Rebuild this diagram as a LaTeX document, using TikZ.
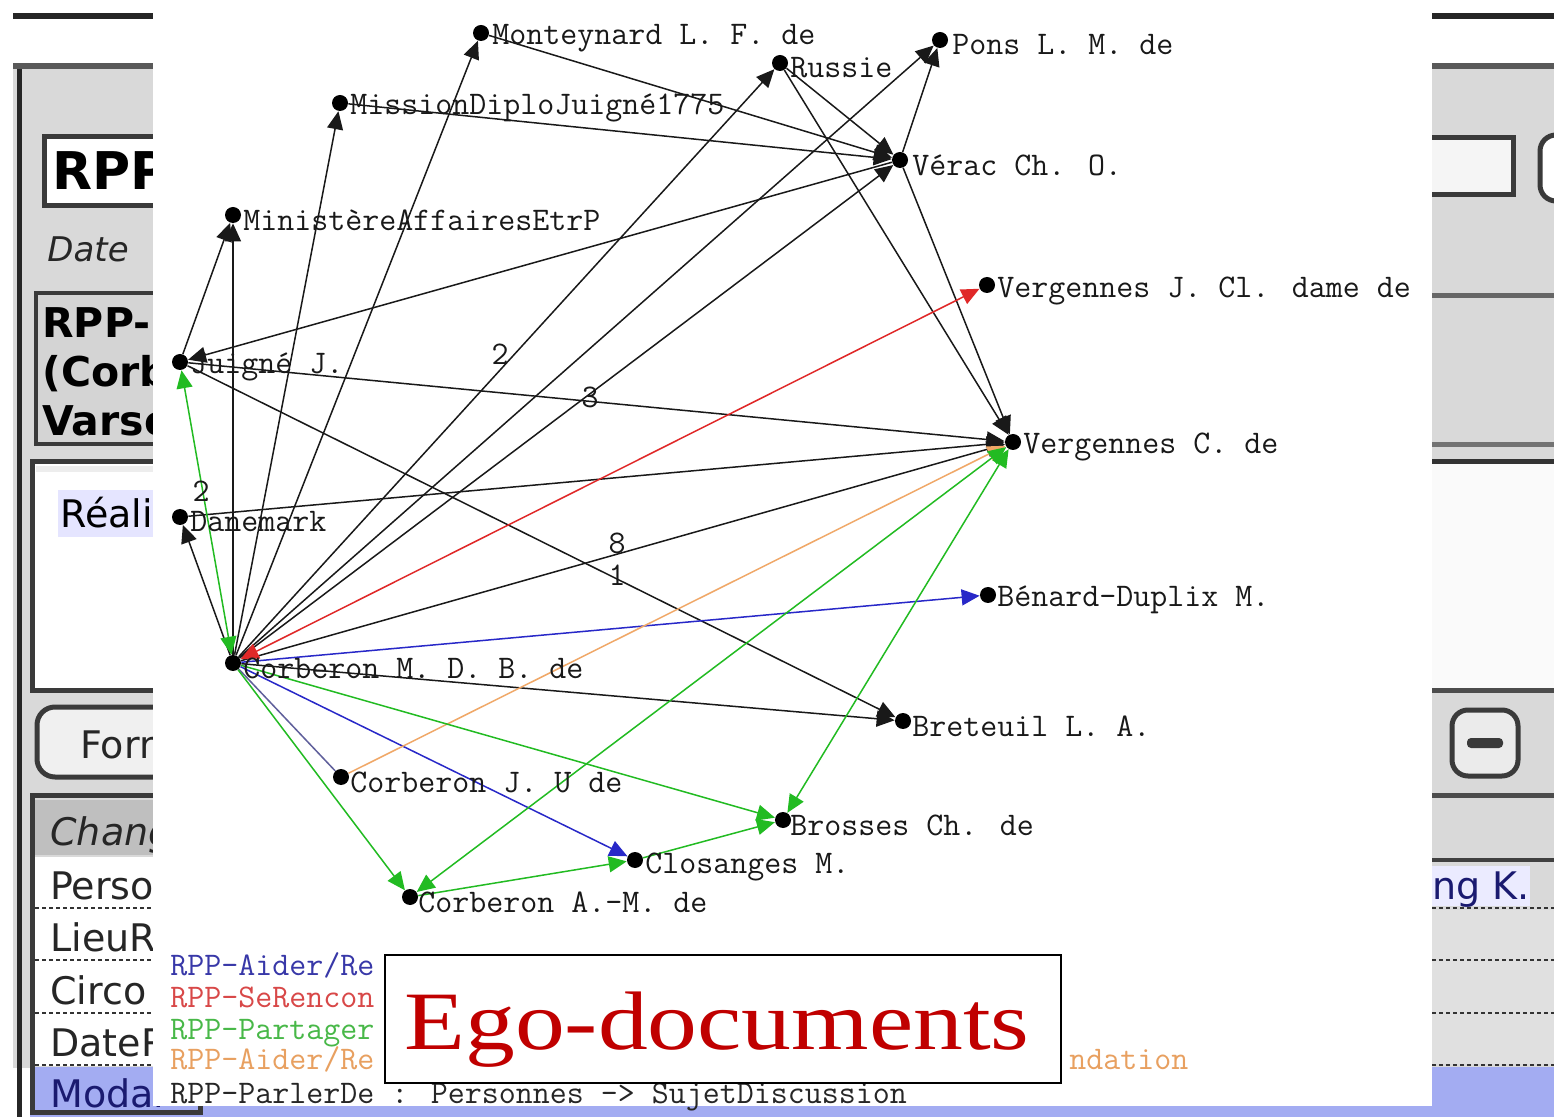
\documentclass[tikz,border=0pt]{standalone}
\usepackage{fontspec}
\setmainfont{Liberation Serif}
\setsansfont{DejaVu Sans}
\usetikzlibrary{arrows.meta}
\pgfdeclarelayer{ui}
\pgfdeclarelayer{edges}
\pgfsetlayers{ui,edges,main}
\newcommand\gfont{\ttfamily\fontsize{16.5}{18}\selectfont}
\newcommand\uifont{\sffamily\fontsize{19}{22}\selectfont}
\definecolor{uigray}{HTML}{D9D9D9}
\definecolor{uidark}{HTML}{3A3A3A}
\definecolor{selblue}{HTML}{A3ACF2}
\definecolor{egored}{HTML}{C00000}
\definecolor{eblue}{HTML}{2828C8}
\definecolor{ered}{HTML}{E02828}
\definecolor{egreen}{HTML}{22BB22}
\definecolor{eorange}{HTML}{F0A868}
\definecolor{lblue}{HTML}{3838A8}
\definecolor{lred}{HTML}{D84848}
\definecolor{lgreen}{HTML}{48B848}
\definecolor{lorange}{HTML}{E8A060}
\definecolor{navy}{HTML}{1A1A70}
\begin{document}
\begin{tikzpicture}[x=0.5pt,y=-0.5pt,
  >={Triangle[length=9pt,width=8pt]},
  dot/.style={circle,fill=black,inner sep=0pt,minimum size=8pt},
  nl/.style={anchor=west,inner sep=0pt,font=\gfont,text=black!90},
  el/.style={inner sep=0pt,font=\gfont,text=black!90,text height=8pt,text depth=0pt},
  bk/.style={draw=black!90,line width=0.75pt,->},
  bl/.style={draw=eblue,line width=0.75pt,->},
  rd/.style={draw=ered,line width=0.75pt,<->},
  gr/.style={draw=egreen,line width=0.75pt,->},
  grr/.style={draw=egreen,line width=0.75pt,<->},
  og/.style={draw=eorange,line width=0.75pt,->},
  uit/.style={anchor=base west,inner sep=0pt,font=\uifont,text=black!85},
  uibox/.style={draw=uidark,line width=1.8pt},
  sep/.style={draw=black!80,line width=1.2pt,dash pattern=on 2pt off 1.5pt},
  legend/.style={anchor=west,inner sep=0pt,font=\gfont,text height=10pt,text depth=2pt}]

\useasboundingbox (0,0) rectangle (1554,1117);

\begin{pgfonlayer}{ui}
% window background
\fill[white] (0,0) rectangle (1554,1117);
\fill[black!85] (13,13) rectangle (1554,19);
\fill[black!65] (13,63) rectangle (1554,69);
\fill[uigray] (13,69) rectangle (1554,1068);
\fill[selblue] (30,1067) rectangle (1554,1117);
\fill[black!85] (17,69) rectangle (22,1117);
% left panel
\draw[uibox,line width=2.5pt,fill=white] (44,137) rectangle (175,206);
\node[uit,font=\sffamily\bfseries\fontsize{26}{30}\selectfont,text=black] (uiRPP) at (52,190) {RPP};
\node[uit,font=\sffamily\itshape\fontsize{17}{20}\selectfont] (uiDate) at (47,262) {Date};
\draw[uibox,fill=black!17] (36,293) rectangle (175,444);
\node[uit,font=\sffamily\bfseries\fontsize{20.5}{24}\selectfont,text=black] (uiL1) at (42,338) {RPP-};
\node[uit,font=\sffamily\bfseries\fontsize{20.5}{24}\selectfont,text=black] (uiL2) at (42,387) {(Corb};
\node[uit,font=\sffamily\bfseries\fontsize{20.5}{24}\selectfont,text=black] (uiL3) at (42,436) {Varse};
\draw[uibox,line width=2.5pt,fill=white] (32,462) rectangle (175,690);
\fill[black!7] (36,466) rectangle (175,472);
\fill[blue!10] (58,490) rectangle (175,537);
\node[uit,text=black] (uiReal) at (60,528) {Réalis};
\draw[uibox,line width=2.5pt,rounded corners=9pt,fill=black!6] (37,707) rectangle (220,777);
\node[uit] (uiForm) at (80,758) {Form};
\draw[uibox,line width=2.5pt] (32,795) rectangle (200,1112);
\fill[black!25] (35,800) rectangle (175,855);
\node[uit,font=\sffamily\itshape\fontsize{19}{22}\selectfont] (uiChang) at (50,845) {Chang};
\fill[white] (35,857) rectangle (175,1066);
\node[uit] (uiPerso) at (50,899) {Perso};
\node[uit] (uiLieu) at (50,951) {LieuR};
\node[uit] (uiCirc) at (50,1004) {Circo};
\node[uit] (uiDateR) at (50,1056) {DateR};
\node[uit,text=navy] (uiModal) at (50,1107) {Modal};
\foreach \yy in {908,960,1013,1065} \draw[sep] (35,\yy) -- (175,\yy);
% right panel
\fill[black!4] (1432,137) rectangle (1513,196);
\draw[uidark,line width=2.5pt] (1432,138) -- (1513,138) -- (1513,195) -- (1432,195);
\draw[uidark,line width=2.5pt,fill=white,rounded corners=8pt] (1540,135) rectangle (1600,201);
\fill[black!60] (1432,293) rectangle (1554,298);
\fill[black!55] (1432,442) rectangle (1554,447);
\fill[black!80] (1432,459) rectangle (1554,464);
\fill[black!2] (1432,464) rectangle (1554,688);
\fill[black!70] (1432,688) rectangle (1554,693);
\draw[uidark,line width=2.5pt,rounded corners=8pt,fill=black!8] (1452,710) rectangle (1518,776);
\fill[uidark,rounded corners=2pt] (1467,738) rectangle (1503,748);
\fill[black!70] (1432,793) rectangle (1554,798);
\fill[black!75] (1432,858) rectangle (1554,862);
\fill[blue!8] (1432,866) rectangle (1530,906);
\node[uit,text=navy] (uiRight) at (1432,899) {ng K.};
\fill[black!12] (1432,910) rectangle (1554,1064);
\foreach \yy in {908,960,1013,1065} \draw[sep] (1432,\yy) -- (1554,\yy);
% graph area
\fill[white] (153,0) rectangle (1432,1106);
\end{pgfonlayer}

% nodes
\node[dot] (mont) at (481,33) {};
\node[dot] (russ) at (780,63) {};
\node[dot] (pons) at (940,40) {};
\node[dot] (miss) at (340,103) {};
\node[dot] (verac) at (900,160) {};
\node[dot] (mini) at (233,215) {};
\node[dot] (vjc) at (987,285) {};
\node[dot] (juig) at (180,362) {};
\node[dot] (vc) at (1013,442) {};
\node[dot] (dane) at (180,517) {};
\node[dot] (bena) at (988,595) {};
\node[dot] (corm) at (233,663) {};
\node[dot] (bret) at (903,721) {};
\node[dot] (corj) at (341,777) {};
\node[dot] (bros) at (783,820) {};
\node[dot] (clos) at (635,860) {};
\node[dot] (cora) at (410,897) {};

\node[nl] (montL) at (492,38) {Monteynard L. F. de};
\node[nl] (russL) at (790,68) {Russie};
\node[nl] (ponsL) at (952,45) {Pons L. M. de};
\node[nl] (missL) at (350,108) {MissionDiploJuigné1775};
\node[nl] (veracL) at (912,165) {Vérac Ch. O.};
\node[nl] (miniL) at (243,220) {MinistèreAffairesEtrP};
\node[nl] (vjcL) at (997,291) {Vergennes J. Cl. dame de};
\node[nl] (juigL) at (190,367) {Juigné J.};
\node[nl] (vcL) at (1023,447) {Vergennes C. de};
\node[nl] (daneL) at (190,522) {Danemark};
\node[nl] (benaL) at (997,600) {Bénard-Duplix M.};
\node[nl] (cormL) at (243,668) {Corberon M. D. B. de};
\node[nl] (bretL) at (912,726) {Breteuil L. A.};
\node[nl] (corjL) at (350,782) {Corberon J. U de};
\node[nl] (brosL) at (790,825) {Brosses Ch. de};
\node[nl] (closL) at (645,867) {Closanges M.};
\node[nl] (coraL) at (418,902) {Corberon A.-M. de};

% edge labels
\node[el] (e2a) at (500,357) {2};
\node[el] (e3) at (590,400) {3};
\node[el] (e8) at (617,546) {8};
\node[el] (e1) at (617,578) {1};
\node[el] (e2b) at (201,494) {2};

\begin{pgfonlayer}{edges}
\draw[bk] (corm) -- (mini);
\draw[bk] (corm) -- (miss);
\draw[bk] (corm) -- (mont);
\draw[bk] (corm) -- (russ);
\draw[bk] (corm) -- (pons);
\draw[bk] (corm) -- (verac);
\draw[bk] (corm) -- (vc);
\draw[bk] (corm) -- (dane);
\draw[bk] (corm) -- (bret);
\draw[bk] (juig) -- (mini);
\draw[bk] (verac) -- (juig);
\draw[bk] (juig) -- (vc);
\draw[bk] (juig) -- (bret);
\draw[bk] (dane) -- (vc);
\draw[bk] (mont) -- (verac);
\draw[bk] (miss) -- (verac);
\draw[bk] (russ) -- (verac);
\draw[bk] (russ) -- (vc);
\draw[bk] (verac) -- (vc);
\draw[bk] (verac) -- (pons);
\draw[draw=navy!70,line width=0.75pt] (corm) -- (corj);
\draw[bl] (corm) -- (bena);
\draw[bl] (corm) -- (clos);
\draw[rd] (corm) -- (vjc);
\draw[og] (corj) -- (vc);
\draw[grr] (juig) -- (corm);
\draw[gr] (corm) -- (cora);
\draw[gr] (corm) -- (bros);
\draw[grr] (cora) -- (vc);
\draw[grr] (bros) -- (vc);
\draw[gr] (cora) -- (clos);
\draw[gr] (clos) -- (bros);
\end{pgfonlayer}

% legend (the middle of the lines is hidden by the title box)
\node[legend,text=lblue] (lg1) at (170,967) {RPP-Aider/Re};
\node[legend,text=lred] (lg2) at (170,999) {RPP-SeRencon};
\node[legend,text=lgreen] (lg3) at (170,1031) {RPP-Partager};
\node[legend,text=lorange] (lg4) at (170,1061) {RPP-Aider/Re};
\node[legend,text=lorange] (lg4b) at (1069,1061) {ndation};
\node[legend,text=black!85] (lg5) at (170,1095) {RPP-ParlerDe : Personnes -> SujetDiscussion};

% title
\node[draw=black,line width=0.8pt,fill=white,minimum width=338pt,minimum height=64pt,inner sep=0pt] (tbox) at (723,1019) {};
\node[anchor=base,inner sep=0pt,text=egored,font=\fontsize{41.5}{44}\selectfont] (title) at (717,1049) {\scalebox{1.2}[1]{Ego-documents}};
\end{tikzpicture}
\end{document}
